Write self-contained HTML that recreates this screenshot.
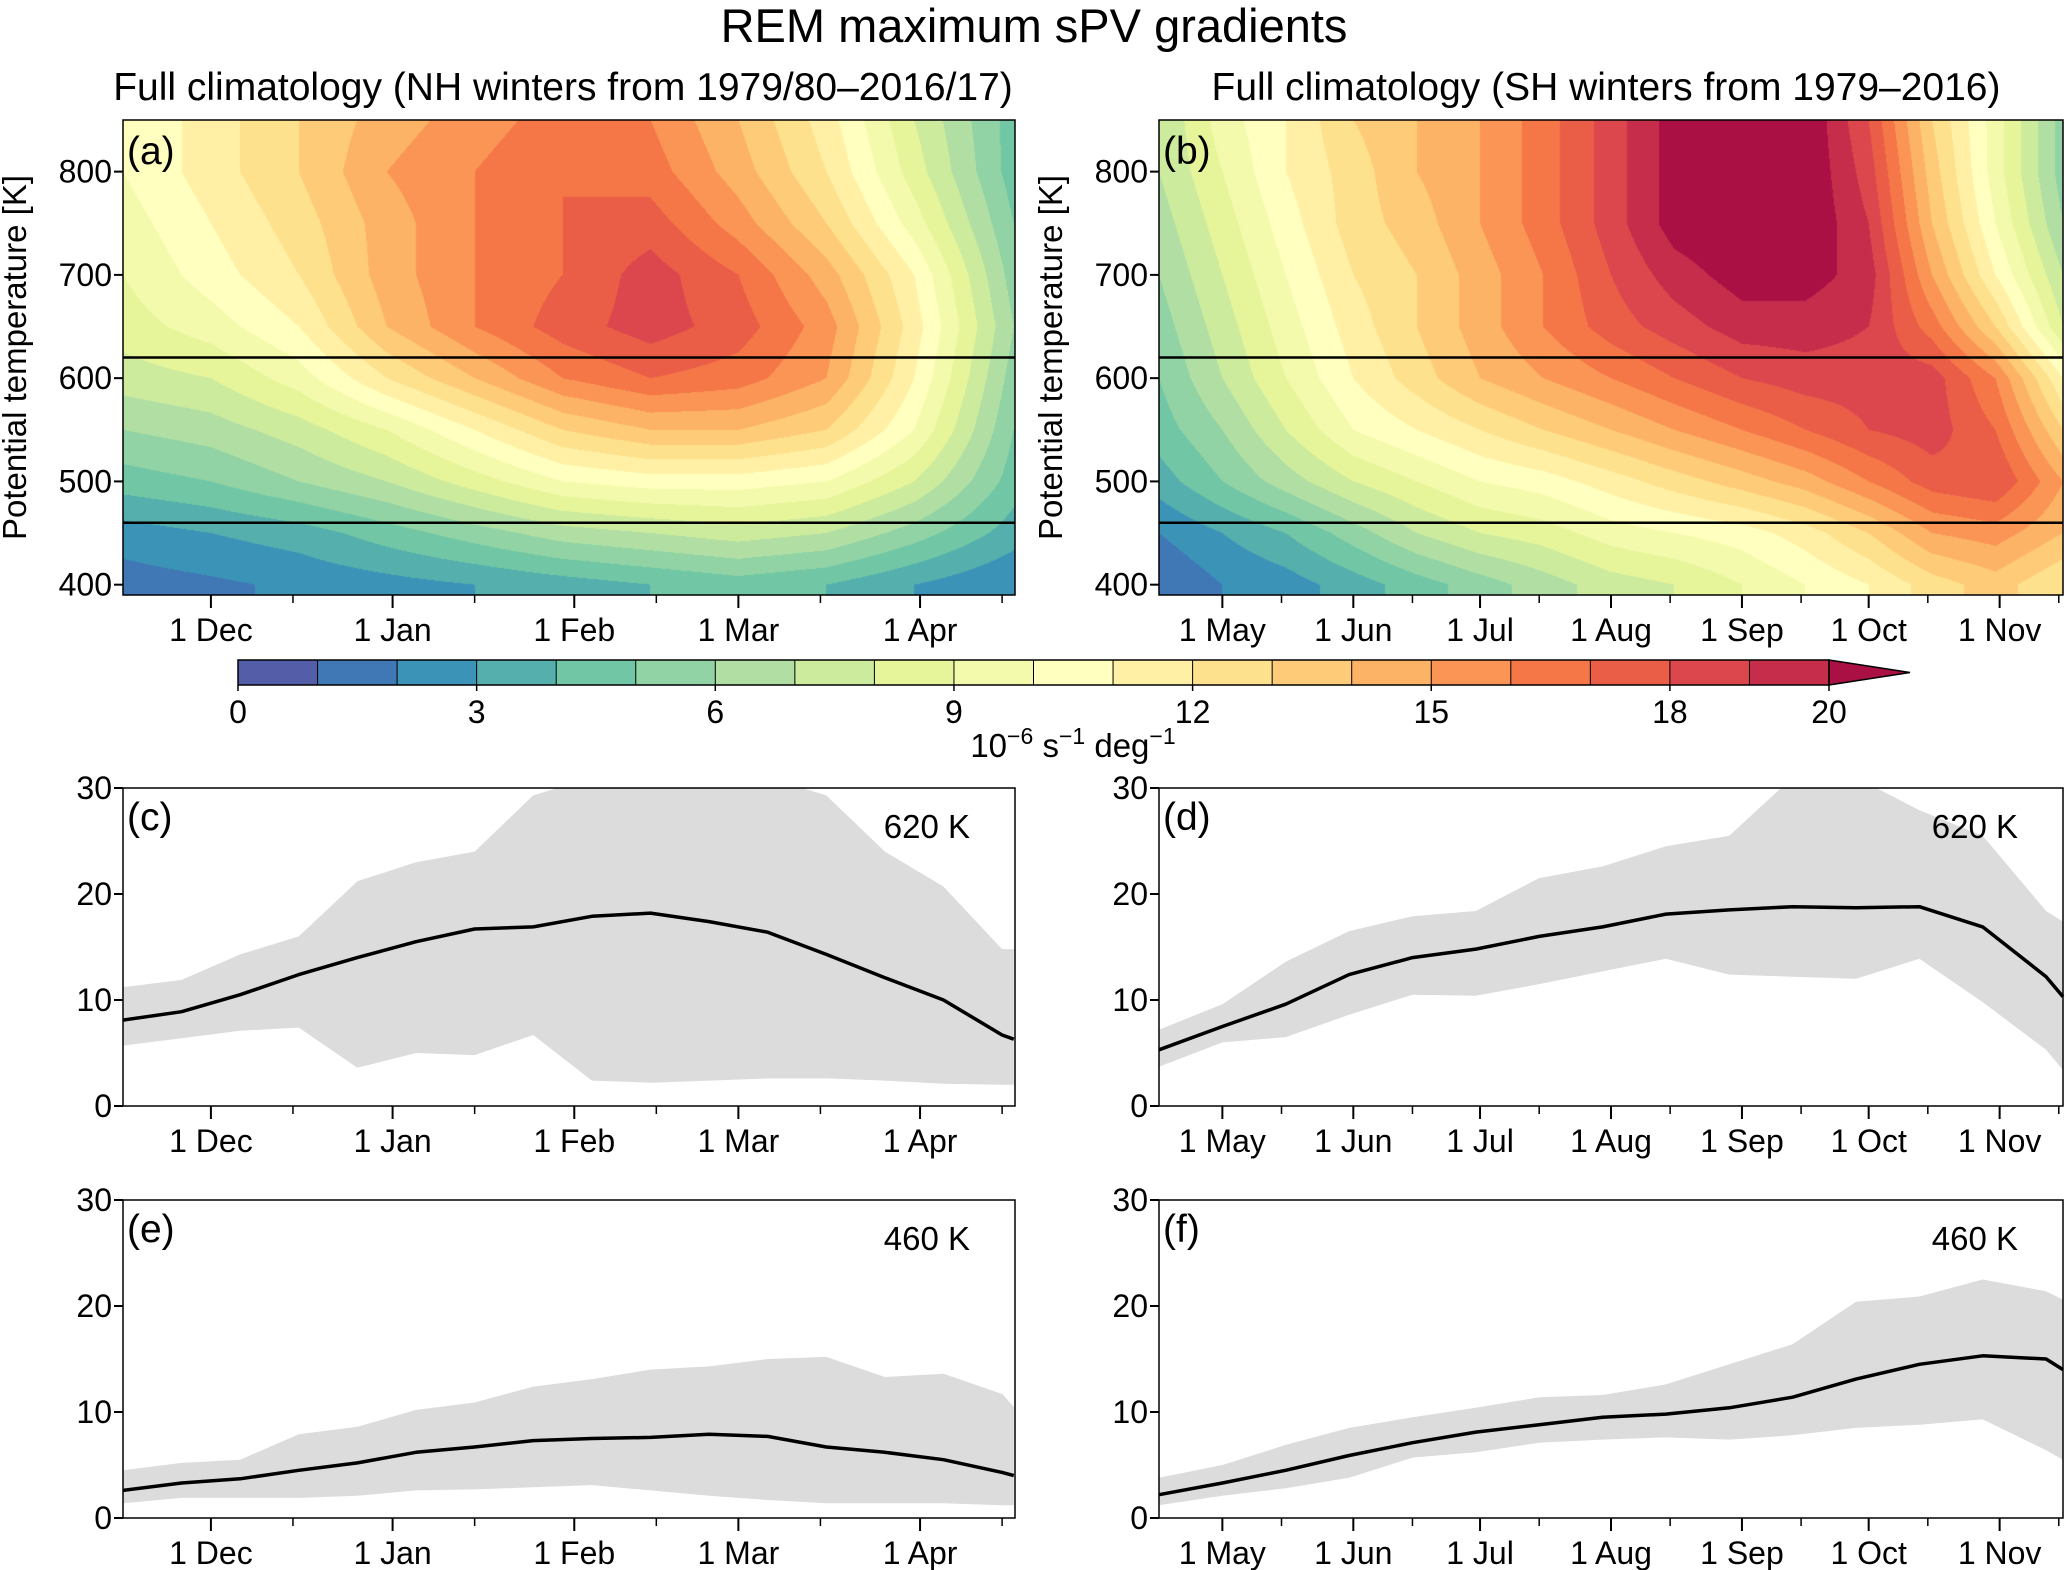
<!DOCTYPE html>
<html><head><meta charset="utf-8">
<style>
html,body{margin:0;padding:0;background:#fff;}
#wrap{position:relative;width:2067px;height:1570px;overflow:hidden;font-family:"Liberation Sans",Arial,sans-serif;}
canvas{position:absolute;}
svg{position:absolute;left:0;top:0;}
svg text{font-family:"Liberation Sans",Arial,sans-serif;fill:#000;}
</style></head>
<body>
<div id="wrap">
<canvas id="cva" width="892" height="475" style="left:123px;top:120px"></canvas>
<canvas id="cvb" width="904" height="475" style="left:1159px;top:120px"></canvas>
<svg id="svg" width="2067" height="1570"></svg>
</div>
<script>
// ---------- DATA ----------
const thetaLevels = [400,450,500,550,600,650,700,750,800,850];
const nhDays = [0,15,30,45,60,75,90,105,120,135,152];
const nhField = [
 [1.5,1.8,2.2,2.6,3,3.5,4,4.5,4,3,2],
 [2.5,3,3.5,4.5,5.5,6.5,7,7.5,7,5.5,3.5],
 [4.5,5,6,7,8.5,10,10.5,10.5,10,8,4.5],
 [6,6.5,7.5,9,11,13,14,14,13,10,5],
 [7.5,8,9.5,12,14,16,17,16.5,15,11,5.5],
 [8.5,9.5,11,14,16,17.5,18.5,17.5,15.5,11.5,6],
 [9,10.5,12,14.5,16,17,18.5,17,14.5,11,5.5],
 [9.5,11,12.5,14.5,16,17,17.5,15.5,13,9.5,5],
 [10,11.5,13,15,16,17,16.5,14.5,12,8.5,4.5],
 [10,11.5,13,14.5,15.5,16.5,16,14,11.5,8,4.5]
];
const shDays = [0,15,30,46,61,76,91,107,122,138,153,168,183,198,214];
const shField = [
 [1,2,2.5,3.5,4.5,5.5,6.5,7.5,8,9,10,11,12.5,13.5,12],
 [2,3,4,5.5,7,8,8.5,9.5,10,10.5,11.5,13,15,15.5,14],
 [3.5,5,6.5,8,9,10,10.5,11.5,12.5,13.5,14.5,16,17.5,18,15],
 [4.5,6,8,10,11,12,13,14,15,16,17,18,18.5,17,13],
 [5,7,9,11,12.5,14,15,16,17,18,18.5,18.5,18.5,16,11],
 [5.5,7.5,9.5,11.5,13,14.5,16,17.5,18.5,19.5,19.5,19,16.5,13,8],
 [6,8,10,12,13,14.5,16,18,19.5,20.5,20.5,19.5,15,11,7],
 [6.5,8.5,10.5,12.5,13.5,15,16.5,18.5,20.5,21,21,19,14,10,6],
 [7,9,11,12.5,14,15,16.5,18.5,20.5,21,21,18.5,13.5,9.5,5.5],
 [7,9.5,11,13,14,15,16.5,18.5,20.5,21,21,18,13,9.5,5.5]
];
const cDays = [0,10,20,30,40,50,60,70,80,90,100,110,120,130,140,150,152];
const cMean = [8.1,8.9,10.5,12.4,14.0,15.5,16.7,16.9,17.9,18.2,17.4,16.4,14.3,12.1,10,6.7,6.3];
const cUpper = [11.2,11.9,14.3,16,21.2,23,24,29.3,31,31,31,31,29.3,24,20.7,14.8,14.8];
const cLower = [5.7,6.4,7.1,7.4,3.6,5,4.8,6.7,2.4,2.2,2.4,2.6,2.6,2.4,2.1,2.0,2.0];
const eDays = cDays;
const eMean = [2.6,3.3,3.7,4.5,5.2,6.2,6.7,7.3,7.5,7.6,7.9,7.7,6.7,6.2,5.5,4.3,4.0];
const eUpper = [4.5,5.2,5.5,7.9,8.6,10.2,10.9,12.4,13.1,14,14.3,15,15.2,13.3,13.6,11.7,10.5];
const eLower = [1.4,1.9,1.9,1.9,2.1,2.6,2.7,2.9,3.1,2.6,2.1,1.7,1.4,1.4,1.4,1.2,1.2];
const dDays = [0,15,30,45,60,75,90,105,120,135,150,165,180,195,210,214];
const dMean = [5.3,7.5,9.6,12.4,14,14.8,16,16.9,18.1,18.5,18.8,18.7,18.8,16.9,12.2,10.3];
const dUpper = [7.2,9.6,13.6,16.5,17.9,18.4,21.5,22.6,24.5,25.5,31,31,27.9,25.5,18.4,17.4];
const dLower = [3.7,6.0,6.5,8.6,10.5,10.4,11.5,12.7,13.9,12.4,12.2,12.0,13.9,9.8,5.3,3.4];
const fDays = dDays;
const fMean = [2.2,3.3,4.5,5.9,7.1,8.1,8.8,9.5,9.8,10.4,11.4,13.1,14.5,15.3,15.0,14];
const fUpper = [3.8,5.0,6.9,8.5,9.5,10.4,11.4,11.6,12.6,14.5,16.4,20.4,20.9,22.5,21.4,20.6];
const fLower = [1.2,2.1,2.8,3.8,5.7,6.2,7.1,7.4,7.6,7.4,7.8,8.5,8.8,9.3,6.4,5.5];
const nhTickLabels = ["1 Dec","1 Jan","1 Feb","1 Mar","1 Apr"];
const nhTickDays = [15,46,77,105,136];
const nhMinorDays = [29,60,91,119,150];
const shTickLabels = ["1 May","1 Jun","1 Jul","1 Aug","1 Sep","1 Oct","1 Nov"];
const shTickDays = [15,46,76,107,138,168,199];
const shMinorDays = [29,60,90,121,152,182,213];
const thetaTicks = [400,500,600,700,800];
const lineTicks = [0,10,20,30];
const cbarTicks = [0,3,6,9,12,15,18,20];

// ---------- helpers ----------
const NS="http://www.w3.org/2000/svg";
const svg=document.getElementById('svg');
const FS=32;
function el(tag,attrs,parent){const e=document.createElementNS(NS,tag);for(const k in attrs)e.setAttribute(k,attrs[k]);(parent||svg).appendChild(e);return e;}
function txt(s,x,y,size,anchor,parent){const t=el('text',{x:x,y:y,'font-size':size,'text-anchor':anchor||'middle'},parent);t.textContent=s;return t;}
const anchors=["#5e4fa2","#3288bd","#66c2a5","#abdda4","#e6f598","#ffffbf","#fee08b","#fdae61","#f46d43","#d53e4f","#9e0142"];
function hex(h){return [parseInt(h.slice(1,3),16),parseInt(h.slice(3,5),16),parseInt(h.slice(5,7),16)];}
function cmap(t){t=Math.max(0,Math.min(1,t));const p=t*10,i=Math.min(9,Math.floor(p)),f=p-i;const a=hex(anchors[i]),b=hex(anchors[i+1]);return a.map((v,k)=>Math.round(v+(b[k]-v)*f));}
const levelColors=[];for(let i=0;i<=20;i++)levelColors.push(cmap((i+0.5)/21));
function rgb(c){return 'rgb('+c.join(',')+')';}

const panels={
 a:{x0:123,x1:1015,y0:120,y1:595,dmax:152.2},
 b:{x0:1159,x1:2063,y0:120,y1:595,dmax:214},
 c:{x0:123,x1:1015,y0:788,y1:1106,dmax:152.2},
 d:{x0:1159,x1:2063,y0:788,y1:1106,dmax:214},
 e:{x0:123,x1:1015,y0:1200,y1:1518,dmax:152.2},
 f:{x0:1159,x1:2063,y0:1200,y1:1518,dmax:214}
};
function xs(p,d){return p.x0+(p.x1-p.x0)*d/p.dmax;}
function ysTheta(p,th){return p.y1-(p.y1-p.y0)*(th-390)/(850-390);}
function ysVal(p,v){return p.y1-(p.y1-p.y0)*v/30;}

function interpField(days,field,d,th){
 let i=0;while(i<days.length-2&&d>days[i+1])i++;
 let fx=(d-days[i])/(days[i+1]-days[i]);fx=Math.max(0,Math.min(1,fx));
 let j=0;while(j<thetaLevels.length-2&&th>thetaLevels[j+1])j++;
 let fy=(th-thetaLevels[j])/(thetaLevels[j+1]-thetaLevels[j]);fy=Math.max(0,Math.min(1,fy));
 const a=field[j][i],b=field[j][i+1],c=field[j+1][i],e=field[j+1][i+1];
 return (a*(1-fx)+b*fx)*(1-fy)+(c*(1-fx)+e*fx)*fy;
}
function drawField(id,p,days,field){
 const cv=document.getElementById(id),ctx=cv.getContext('2d');
 const W=cv.width,H=cv.height,img=ctx.createImageData(W,H);
 for(let y=0;y<H;y++){const th=850-(850-390)*(y+0.5)/H;
  for(let x=0;x<W;x++){const d=p.dmax*(x+0.5)/W;
   const v=interpField(days,field,d,th);const k=Math.max(0,Math.min(20,Math.floor(v)));
   const c=levelColors[k],o=(y*W+x)*4;img.data[o]=c[0];img.data[o+1]=c[1];img.data[o+2]=c[2];img.data[o+3]=255;}}
 ctx.putImageData(img,0,0);
}
drawField('cva',panels.a,nhDays,nhField);
drawField('cvb',panels.b,shDays,shField);

function xAxis(p,tickDays,labels,minor,name){
 const g=el('g',{});
 
 
 tickDays.forEach((d,i)=>{const x=xs(p,d);el('line',{x1:x,x2:x,y1:p.y1,y2:p.y1+13,stroke:'#000','stroke-width':2},g);txt(labels[i],x,p.y1+46,FS,'middle',g);});
 minor.forEach(d=>{const x=xs(p,d);el('line',{x1:x,x2:x,y1:p.y1,y2:p.y1+8,stroke:'#000','stroke-width':1.5},g);});
}
function frame(p,name){const r=el('rect',{x:p.x0,y:p.y0,width:p.x1-p.x0,height:p.y1-p.y0,fill:'none',stroke:'#000','stroke-width':1.5});}

[['a',nhTickDays,nhTickLabels,nhMinorDays,'(a)'],['b',shTickDays,shTickLabels,shMinorDays,'(b)']].forEach(([k,td,tl,mn,lab])=>{
 const p=panels[k];
 [620,460].forEach(th=>{const y=ysTheta(p,th);const l=el('line',{x1:p.x0,x2:p.x1,y1:y,y2:y,stroke:'#000','stroke-width':2.5});});
 frame(p,'panel-'+k+'-frame');
 thetaTicks.forEach(th=>{const y=ysTheta(p,th);el('line',{x1:p.x0-9,x2:p.x0,y1:y,y2:y,stroke:'#000','stroke-width':2});txt(String(th),p.x0-11,y+11,FS,'end');});
 xAxis(p,td,tl,mn,'panel-'+k+'-x-axis');
 const t=txt(lab,p.x0+4,p.y0+44,39,'start');
 const yl=txt('Potential temperature [K]',0,0,33,'middle');
 yl.setAttribute('transform','translate('+(p.x0-97)+','+((p.y0+p.y1)/2)+') rotate(-90)');
 
 
});

[['c',cDays,cMean,cUpper,cLower,'(c)','620 K',nhTickDays,nhTickLabels,nhMinorDays],
 ['d',dDays,dMean,dUpper,dLower,'(d)','620 K',shTickDays,shTickLabels,shMinorDays],
 ['e',eDays,eMean,eUpper,eLower,'(e)','460 K',nhTickDays,nhTickLabels,nhMinorDays],
 ['f',fDays,fMean,fUpper,fLower,'(f)','460 K',shTickDays,shTickLabels,shMinorDays]].forEach(([k,days,mean,up,lo,lab,lev,td,tl,mn])=>{
 const p=panels[k];
 const cp=el('clipPath',{id:'clip'+k});el('rect',{x:p.x0,y:p.y0,width:p.x1-p.x0,height:p.y1-p.y0},cp);
 let s='';days.forEach((d,i)=>{s+=(i?'L':'M')+xs(p,d).toFixed(1)+','+ysVal(p,up[i]).toFixed(1);});
 for(let i=days.length-1;i>=0;i--)s+='L'+xs(p,days[i]).toFixed(1)+','+ysVal(p,lo[i]).toFixed(1);
 const band=el('path',{d:s+'Z',fill:'#dcdcdc','clip-path':'url(#clip'+k+')'});
 
 
 let m='';days.forEach((d,i)=>{m+=(i?'L':'M')+xs(p,d).toFixed(1)+','+ysVal(p,mean[i]).toFixed(1);});
 const ml=el('path',{d:m,fill:'none',stroke:'#000','stroke-width':3.5,'stroke-linejoin':'round'});
 
 
 frame(p,'panel-'+k+'-frame');
 lineTicks.forEach(v=>{const y=ysVal(p,v);el('line',{x1:p.x0-9,x2:p.x0,y1:y,y2:y,stroke:'#000','stroke-width':2});txt(String(v),p.x0-11,y+11,FS,'end');});
 xAxis(p,td,tl,mn,'panel-'+k+'-x-axis');
 const t=txt(lab,p.x0+4,p.y0+42,39,'start');
 const t2=txt(lev,p.x1-45,p.y0+50,33,'end');
});

const cb={x0:238,x1:1829,y0:660,y1:685,tip:1910};
const cbg=el('g',{});


const bw=(cb.x1-cb.x0)/20;
for(let i=0;i<20;i++){el('rect',{x:cb.x0+i*bw,y:cb.y0,width:bw+0.5,height:cb.y1-cb.y0,fill:rgb(levelColors[i])},cbg);}
el('polygon',{points:cb.x1+','+cb.y0+' '+cb.tip+','+((cb.y0+cb.y1)/2)+' '+cb.x1+','+cb.y1,fill:rgb(levelColors[20]),stroke:'#000','stroke-width':1.5},cbg);
for(let i=1;i<20;i++){const x=cb.x0+i*bw;el('line',{x1:x,x2:x,y1:cb.y0,y2:cb.y1,stroke:'#000','stroke-width':1},cbg);}
el('rect',{x:cb.x0,y:cb.y0,width:cb.x1-cb.x0,height:cb.y1-cb.y0,fill:'none',stroke:'#000','stroke-width':1.5},cbg);
cbarTicks.forEach(v=>{const x=cb.x0+v*bw;el('line',{x1:x,x2:x,y1:cb.y1,y2:cb.y1+6,stroke:'#000','stroke-width':1.5},cbg);txt(String(v),x,cb.y1+38,FS,'middle',cbg);});
</script>
<svg width="2067" height="1570" style="position:absolute;left:0;top:0;pointer-events:none">
<text x="1034" y="42" font-size="47" text-anchor="middle" font-family="Liberation Sans, Arial, sans-serif">REM maximum sPV gradients</text>
<text x="563" y="100" font-size="39" text-anchor="middle" font-family="Liberation Sans, Arial, sans-serif">Full climatology (NH winters from 1979/80–2016/17)</text>
<text x="1606" y="100" font-size="39" text-anchor="middle" font-family="Liberation Sans, Arial, sans-serif">Full climatology (SH winters from 1979–2016)</text>
<text x="1073" y="757" font-size="33" text-anchor="middle" font-family="Liberation Sans, Arial, sans-serif">10<tspan dy="-13" font-size="23">−6</tspan><tspan dy="13"> s</tspan><tspan dy="-13" font-size="23">−1</tspan><tspan dy="13"> deg</tspan><tspan dy="-13" font-size="23">−1</tspan></text>
</svg>
</body></html>
